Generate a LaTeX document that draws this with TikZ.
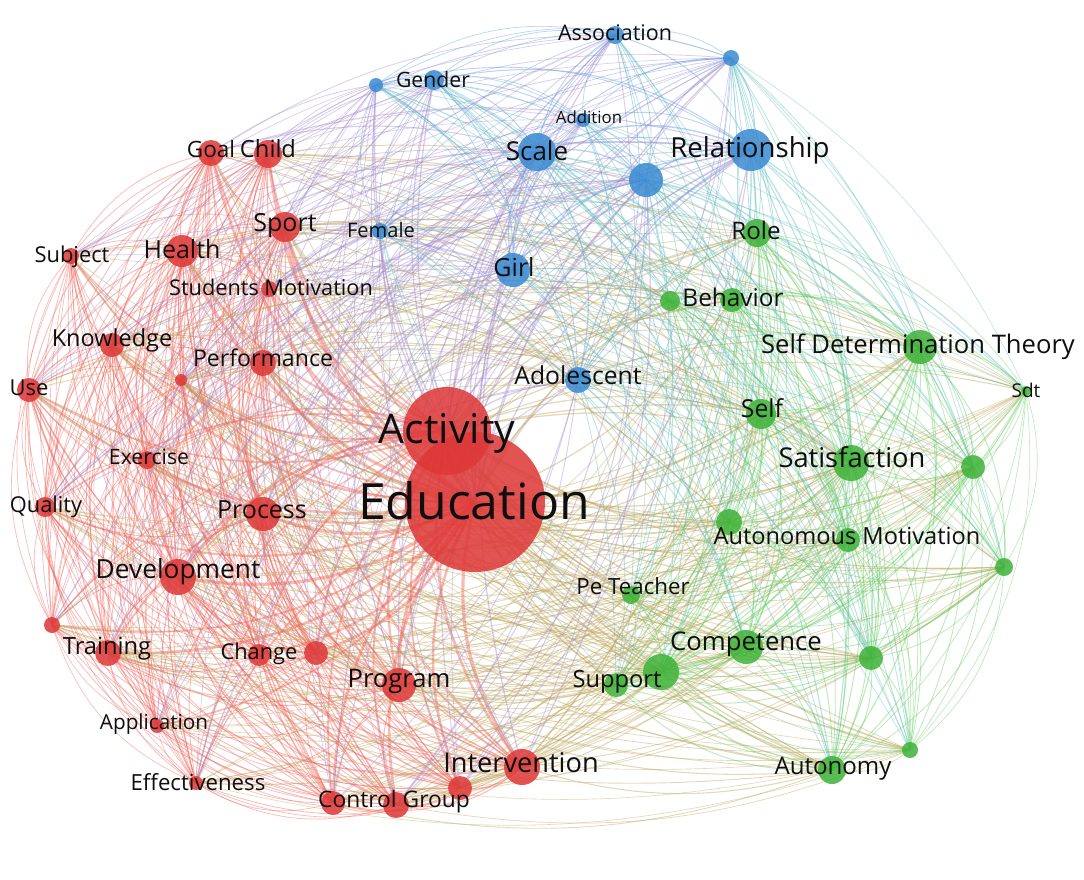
\documentclass[tikz,border=0pt]{standalone}
\usepackage{fontspec}
\setmainfont{Open Sans}
\pgfdeclarelayer{bg}\pgfdeclarelayer{edges}
\pgfsetlayers{bg,edges,main}
\definecolor{nR}{RGB}{222,55,55}
\definecolor{nB}{RGB}{58,138,210}
\definecolor{nG}{RGB}{62,178,56}
\definecolor{eRR}{RGB}{240,95,85}
\definecolor{eBB}{RGB}{90,150,225}
\definecolor{eGG}{RGB}{95,205,90}
\definecolor{eRB}{RGB}{165,140,205}
\definecolor{eBR}{RGB}{165,140,205}
\definecolor{eRG}{RGB}{190,165,90}
\definecolor{eGR}{RGB}{150,185,95}
\definecolor{eBG}{RGB}{95,190,190}
\definecolor{eGB}{RGB}{95,190,190}
\definecolor{txt}{RGB}{15,15,15}
\tikzset{
  dot/.style={circle, inner sep=0pt, outer sep=0pt, fill opacity=0.85},
  kw/.style={inner sep=0pt, text=txt},
  link/.style={line cap=round, draw opacity=0.42}
}
\begin{document}
\begin{tikzpicture}[x=1pt,y=-1pt]
\begin{pgfonlayer}{bg}
\fill[white] (0,0) rectangle (1084,879);
\end{pgfonlayer}
\useasboundingbox (0,0) rectangle (1084,879);
% nodes: id/x/y/r/cluster
\foreach \nm/\x/\y/\r/\c [count=\k] in {
 Goal/211/153/13/R, Child/268/154/14/R, Sport/285/227/15/R, Health/182/251/16/R,
 Subject/71/256/8/R, StMot/269/289/8/R, Knowledge/112/345/12/R, Performance/263/363/13/R,
 Small/181/380/6/R, Use/29/390/12/R, Exercise/147/460/9/R, Quality/45/507/10/R,
 Process/263/514/17/R, Development/178/577/18/R, Activity/447/431/44/R, Education/475/502/70/R,
 UA/52/625/8/R, Training/108/653/13/R, Change/259/655/11/R, UB/316/653/12/R,
 Program/399/685/17/R, Application/157/726/7/R, Effectiveness/196/783/7/R, CGa/333/803/12/R,
 CGb/396/805/13/R, UC/460/788/12/R, Intervention/522/767/18/R,
 Association/615/35/9/B, UD/731/58/8/B, Gender/434/80/10/B, UE/376/85/7/B,
 Addition/583/120/7/B, Scale/537/152/19/B, UF/646/180/17/B, Relationship/751/150/21/B,
 Female/380/231/8/B, Girl/513/270/17/B, Adolescent/578/380/13/B,
 Role/757/233/14/G, BehA/670/301/10/G, Behavior/732/300/12/G, SDT/920/347/17/G,
 Sdt/1026/391/5/G, Self/761/414/15/G, Satisfaction/851/463/18/G, UG/973/467/12/G,
 UH/729/522/13/G, AutMot/848/540/12/G, UI/1004/567/9/G, PeTeacher/631/595/9/G,
 Competence/746/647/17/G, SupA/616/685/12/G, Support/661/672/18/G, UJ/871/658/12/G,
 Autonomy/832/770/14/G, UK/910/750/8/G}{
  \expandafter\xdef\csname X\k\endcsname{\x}
  \expandafter\xdef\csname Y\k\endcsname{\y}
  \expandafter\xdef\csname R\k\endcsname{\r}
  \expandafter\xdef\csname C\k\endcsname{\c}
  \node[dot, fill=n\c, minimum size=2*\r pt] (n\k) at (\x,\y) {};
}
% connectors
\begin{pgfonlayer}{edges}
\foreach \i in {1,...,55}{
  \pgfmathtruncatemacro\ip{\i+1}
  \foreach \j in {\ip,...,56}{
    \edef\ci{\csname C\i\endcsname}\edef\cj{\csname C\j\endcsname}
    \edef\ri{\csname R\i\endcsname}\edef\rj{\csname R\j\endcsname}
    \pgfmathtruncatemacro\hh{mod(\i*31+\j*17+7*mod(\i*\j,97),10)}
    \ifx\ci\cj
      \def\thr{10}\def\cap{3.2}\def\bnd{24}
    \else
      \def\thr{5}\def\cap{1.3}\def\bnd{16}
    \fi
    \pgfmathtruncatemacro\isbig{(\ri>40)||(\rj>40)}
    \pgfmathtruncatemacro\ok{(\hh<\thr)||(\isbig==1)}
    \ifnum\ok=1
      \pgfmathsetmacro\lw{min(\cap,0.5+0.0024*\ri*\rj)}
      \pgfmathsetmacro\crs{(\csname X\i\endcsname-540)/100*(\csname Y\j\endcsname-440)/100-(\csname Y\i\endcsname-440)/100*(\csname X\j\endcsname-540)/100}
      \edef\ec{e\ci\cj}
      \ifdim\crs pt>0pt
        \draw[link, draw=\ec, line width=\lw pt] (n\i.center) to[bend left=\bnd] (n\j.center);
      \else
        \draw[link, draw=\ec, line width=\lw pt] (n\j.center) to[bend left=\bnd] (n\i.center);
      \fi
    \fi
  }
}
\end{pgfonlayer}
% labels: text/x/y/size
\foreach \t/\x/\y/\s [count=\k] in {
 Goal/211/150/22.5, Child/268/150/23.7, Gender/433/80/21.2, Association/615/33/21.5,
 Addition/589/118/16.8, Scale/537/152/26, Relationship/750/148/27.6, Sport/285/223/25,
 Female/381/231/20.1, Subject/72/255/21.9, Health/182/250/25, Students Motivation/271/288/21.7,
 Role/756/232/24.2, Girl/514/268/25, Behavior/733/298/24.4, Knowledge/112/339/23.5,
 Performance/263/359/23.1, Self Determination Theory/918/345/25.6, Adolescent/578/376/24.7,
 Use/29/388/22, Sdt/1026/391/19, Self/762/409/24.7, Activity/447/430/41,
 Exercise/149/457/21.2, Satisfaction/852/458/27.3, Quality/46/505/21.8, Education/474/503/50,
 Process/262/510/25, Autonomous Motivation/847/537/23.6, Development/178/570/26.3,
 Pe Teacher/633/587/22.3, Competence/746/642/25.7, Training/107/647/23.7, Change/259/652/21.8,
 Program/399/679/25.6, Support/617/680/23.7, Application/154/723/20.7, Intervention/521/764/27.2,
 Autonomy/833/767/24.1, Effectiveness/198/783/22.2, Control Group/394/800/22.8}{
  \node[kw, anchor=base, font=\fontsize{\s pt}{\s pt}\selectfont] (l\k) at (\x,{\y+0.33*\s}) {\t};
}
\end{tikzpicture}
\end{document}
